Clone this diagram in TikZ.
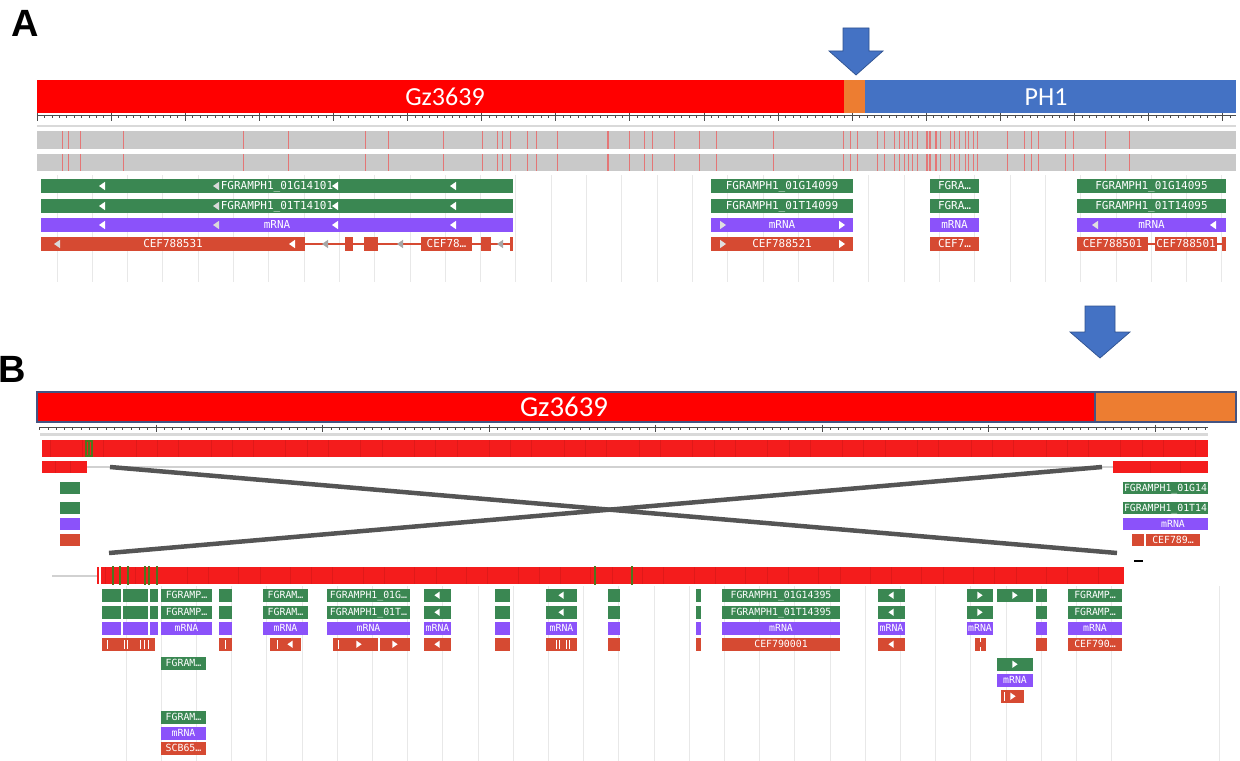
\documentclass[tikz,border=0pt]{standalone}
\usepackage{fontspec}
\setmainfont{Carlito}
\newfontfamily\monofnt{DejaVu Sans Mono}
\newfontfamily\headfnt{Liberation Sans}

\definecolor{barred}{RGB}{255,0,0}
\definecolor{barorange}{RGB}{237,125,49}
\definecolor{barblue}{RGB}{68,114,196}
\definecolor{arrowedge}{RGB}{47,82,143}
\definecolor{baredge}{RGB}{68,84,130}
\definecolor{gnG}{RGB}{58,135,82}
\definecolor{gnP}{RGB}{139,82,250}
\definecolor{gnR}{RGB}{214,74,50}
\definecolor{trk}{RGB}{201,201,201}
\definecolor{snpred}{RGB}{228,118,118}
\definecolor{trkred}{RGB}{244,28,28}
\definecolor{crossgray}{RGB}{85,85,85}
\definecolor{varg}{RGB}{78,118,30}

\newcommand{\blk}[4]{\fill[#1] (#2,#4) rectangle (#3,#4+\fh);}
\newcommand{\lblk}[6]{\blk{#1}{#2}{#3}{#4}%
  \node[lbl] (#5) at ({(#2+#3)/2},#4+\fh/2) {#6};}
\newcommand{\lchev}[3]{\fill[#3] (#1-\cw,#2) -- (#1+\cw,#2-\ch) -- (#1+\cw,#2+\ch) -- cycle;}
\newcommand{\rchev}[3]{\fill[#3] (#1+\cw,#2) -- (#1-\cw,#2-\ch) -- (#1-\cw,#2+\ch) -- cycle;}

\begin{document}
\begin{tikzpicture}[x=0.025cm,y=-0.025cm,
    panel/.style={font=\headfnt\bfseries\fontsize{27}{27}\selectfont,inner sep=0pt},
    barlbl/.style={text=white,inner sep=0pt,font=\fontsize{18.5}{19}\selectfont},
    lbl/.style={text=white,inner sep=0pt,text height=5.6pt,text depth=0pt,
      font=\monofnt\fontsize{7.8}{8}\selectfont},
    gG/.style={fill=gnG},gP/.style={fill=gnP},gR/.style={fill=gnR},
    intron/.style={draw=gnR,line width=1.2pt},
    ruler/.style={draw=black!70,line width=0.45pt},
    snp/.style={draw=snpred,line width=0.55pt},
    gridln/.style={draw=black!9,line width=0.6pt},
    bluearrow/.style={fill=barblue,draw=arrowedge,line width=0.5pt},
    cross/.style={draw=crossgray,line width=3.2pt},
    seam/.style={draw=trkred!80!black,line width=0.3pt,opacity=0.4},
    varln/.style={draw=varg,line width=1pt},
    cut/.style={draw=white,line width=0.6pt}]

  \useasboundingbox (0,0) rectangle (1240,761);

  % panel A
  \node[panel] (labA) at (25,23) {A};
  \fill[barred] (37,80) rectangle (844,113);
  \fill[barorange] (844,80) rectangle (865,113);
  \fill[barblue] (865,80) rectangle (1236,113);
  \node[barlbl] (chrA) at (445,97) {Gz3639};
  \node[barlbl] (refA) at (1046,97) {PH1};
  \draw[bluearrow] (843,28) -- (869,28) -- (869,51) -- (883,51) -- (856,75)
    -- (829,51) -- (843,51) -- cycle;

  \draw[ruler] (37,115) -- (1236,115);
  \foreach \i in {0,...,161} \draw[ruler] (37+\i*7.41,115) -- ++(0,3);
  \foreach \i in {0,...,16} \draw[ruler] (37+\i*74.1,113) -- ++(0,8);
  \fill[black!15] (37,125) rectangle (1236,127.5);

  \fill[trk] (37,131) rectangle (1236,149);
  \fill[trk] (37,154) rectangle (1236,171);
  \foreach \x in {62,68,80,123,243,288,365,388,443,482,497,502,510,527,536,557,
      629,644,652,674,699,716,773,843,850,857,877,884,894,899,904,908,912,917,
      940,950,954,959,965,968,973,977,1007,1024,1031,1038,1065,1073,1105,1129}
    \draw[snp] (\x,131) -- (\x,149) (\x,154) -- (\x,171);
  \foreach \x in {608,927,930,936}
    \draw[snp,line width=1.3pt] (\x,131) -- (\x,149) (\x,154) -- (\x,171);

  \foreach \k in {0,...,33} \draw[gridln] (57+\k*35.3,175) -- (57+\k*35.3,282);

  \def\fh{14}\def\cw{3}\def\ch{4.2}
  \lblk{gG}{41}{513}{179}{a1a}{FGRAMPH1\_01G14101}
  \lblk{gG}{41}{513}{199}{a1b}{FGRAMPH1\_01T14101}
  \lblk{gP}{41}{513}{218}{a1c}{mRNA}
  \foreach \y in {186,206,225} {\lchev{102}{\y}{white}\lchev{335}{\y}{white}
    \lchev{453}{\y}{white}\lchev{216}{\y}{white!70!gray}}
  \draw[intron] (305,244) -- (513,244);
  \lblk{gR}{41}{305}{237}{a1d}{CEF788531}
  \blk{gR}{345}{353}{237}\blk{gR}{364}{378}{237}
  \lblk{gR}{421}{472}{237}{a1e}{CEF78…}
  \blk{gR}{481}{491}{237}\blk{gR}{510}{513}{237}
  \lchev{57}{244}{white!70!gray}\lchev{292}{244}{white}
  \foreach \x in {325,400,500} {\lchev{\x}{244}{black!35}}

  \lblk{gG}{711}{853}{179}{a2a}{FGRAMPH1\_01G14099}
  \lblk{gG}{711}{853}{199}{a2b}{FGRAMPH1\_01T14099}
  \lblk{gP}{711}{853}{218}{a2c}{mRNA}
  \lblk{gR}{711}{853}{237}{a2d}{CEF788521}
  \foreach \y in {225,244} {\rchev{723}{\y}{white!75!gray}\rchev{842}{\y}{white}}

  \lblk{gG}{930}{979}{179}{a3a}{FGRA…}
  \lblk{gG}{930}{979}{199}{a3b}{FGRA…}
  \lblk{gP}{930}{979}{218}{a3c}{mRNA}
  \lblk{gR}{930}{979}{237}{a3d}{CEF7…}

  \lblk{gG}{1077}{1226}{179}{a4a}{FGRAMPH1\_01G14095}
  \lblk{gG}{1077}{1226}{199}{a4b}{FGRAMPH1\_01T14095}
  \lblk{gP}{1077}{1226}{218}{a4c}{mRNA}
  \lchev{1095}{225}{white!75!gray}\lchev{1213}{225}{white}
  \draw[intron] (1148,244) -- (1226,244);
  \lblk{gR}{1077}{1148}{237}{a4d}{CEF788501}
  \lblk{gR}{1155}{1217}{237}{a4e}{CEF788501}
  \blk{gR}{1222}{1226}{237}

  % panel B
  \node[panel] (labB) at (12,369) {B};
  \draw[bluearrow] (1085,306) -- (1115,306) -- (1115,332) -- (1130,332) -- (1100,358)
    -- (1070,332) -- (1085,332) -- cycle;
  \filldraw[fill=barred,draw=baredge,line width=0.8pt] (37,392) rectangle (1095,422);
  \filldraw[fill=barorange,draw=baredge,line width=0.8pt] (1095,392) rectangle (1236,422);
  \node[barlbl,font=\fontsize{20.5}{21}\selectfont] (chrB) at (564,407) {Gz3639};

  \draw[ruler] (40,427) -- (1208,427);
  \foreach \i in {0,...,140} \draw[ruler] (39.5+\i*8.325,427) -- ++(0,2.5);
  \foreach \i in {0,...,6} \draw[ruler] (156+\i*166.5,424.5) -- ++(0,7);
  \fill[black!15] (40,433) rectangle (1208,435.5);

  \fill[trkred] (42,440) rectangle (1208,457);
  \foreach \k in {0,...,45} \draw[seam] ({50+\k*25.3+mod(\k*7,11)},440) -- ++(0,17);
  \draw[varln,line width=0.8pt] (86,441) rectangle (92,456);
  \draw[varln] (89,441) -- (89,456);
  \draw[black!18,line width=1.2pt] (87,467) -- (1113,467);
  \fill[trkred] (42,461) rectangle (87,473);
  \fill[trkred] (1113,461) rectangle (1208,473);
  \foreach \x in {55,70,1150,1180} \draw[seam] (\x,461) -- ++(0,12);

  \coordinate (lt) at (110,467);
  \coordinate (lb) at (109,553);
  \coordinate (rt) at (1102,467);
  \coordinate (rb) at (1117,553);
  \draw[cross] (lt) -- (rb);
  \draw[cross] (lb) -- (rt);

  \def\fh{12}\def\cw{2.6}\def\ch{3.6}
  \tikzset{lbl/.append style={text height=5.1pt,font=\monofnt\fontsize{7}{7}\selectfont}}
  \blk{gG}{60}{80}{482}\blk{gG}{60}{80}{502}
  \blk{gP}{60}{80}{518}\blk{gR}{60}{80}{534}
  \lblk{gG}{1123}{1208}{482}{b0a}{FGRAMPH1\_01G14}
  \lblk{gG}{1123}{1208}{502}{b0b}{FGRAMPH1\_01T14}
  \blk{gP}{1123}{1208}{518}\node[lbl] (b0c) at (1173,524) {mRNA};
  \blk{gR}{1132}{1144}{534}
  \lblk{gR}{1146}{1200}{534}{b0d}{CEF789…}
  \draw[black,line width=1.6pt] (1134,561) -- (1143,561);

  \draw[black!18,line width=1pt] (52,576) -- (97,576);
  \fill[trkred] (97,567) rectangle (1124,584);
  \draw[white,line width=0.8pt] (100,567) -- (100,584);
  \foreach \k in {0,...,39} \draw[seam] ({105+\k*25.3+mod(\k*5,9)},567) -- ++(0,17);
  \foreach \x in {113,120,128,145,149,157,595,632} \draw[varln] (\x,566) -- (\x,585);

  \foreach \k in {0,...,28} \draw[gridln] (126+\k*35.2,586) -- (126+\k*35.2,761);
  \draw[gridln] (1219,586) -- (1219,761);

  \def\fh{12.5}
  \foreach \a/\b in {102/121,123/148,150/158}
    {\blk{gG}{\a}{\b}{589}\blk{gG}{\a}{\b}{606}\blk{gP}{\a}{\b}{622}}
  \lblk{gG}{161}{212}{589}{b1a}{FGRAMP…}
  \lblk{gG}{161}{212}{606}{b1b}{FGRAMP…}
  \lblk{gP}{161}{212}{622}{b1c}{mRNA}
  \blk{gR}{102}{155}{638}
  \foreach \x in {107,124,127,140,144,148} \draw[cut] (\x,640) -- (\x,649);
  \lblk{gG}{161}{206}{657}{b1d}{FGRAM…}
  \lblk{gG}{161}{206}{711}{b1e}{FGRAM…}
  \lblk{gP}{161}{206}{727}{b1f}{mRNA}
  \lblk{gR}{161}{206}{742}{b1g}{SCB65…}

  \blk{gG}{219}{232}{589}\blk{gG}{219}{232}{606}
  \blk{gP}{219}{232}{622}\blk{gR}{219}{232}{638}
  \draw[cut] (225,640) -- (225,649);

  \lblk{gG}{263}{308}{589}{b3a}{FGRAM…}
  \lblk{gG}{263}{308}{606}{b3b}{FGRAM…}
  \lblk{gP}{263}{308}{622}{b3c}{mRNA}
  \blk{gR}{270}{301}{638}
  \draw[cut] (277,640) -- (277,649);
  \lchev{290}{644.25}{white}

  \lblk{gG}{327}{410}{589}{b4a}{FGRAMPH1\_01G…}
  \lblk{gG}{327}{410}{606}{b4b}{FGRAMPH1\_01T…}
  \lblk{gP}{327}{410}{622}{b4c}{mRNA}
  \blk{gR}{333}{378}{638}\blk{gR}{379.5}{410}{638}
  \draw[cut] (338,640) -- (338,649);
  \rchev{359}{644.25}{white}\rchev{395}{644.25}{white}

  \blk{gG}{424}{451}{589}\blk{gG}{424}{451}{606}
  \lblk{gP}{424}{451}{622}{b5c}{mRNA}
  \blk{gR}{424}{451}{638}
  \foreach \y in {595.25,612.25,644.25} {\lchev{437}{\y}{white}}

  \blk{gG}{495}{510}{589}\blk{gG}{495}{510}{606}
  \blk{gP}{495}{510}{622}\blk{gR}{495}{510}{638}

  \blk{gG}{546}{577}{589}\blk{gG}{546}{577}{606}
  \lblk{gP}{546}{577}{622}{b7c}{mRNA}
  \blk{gR}{546}{577}{638}
  \foreach \x in {556,559,566,569} \draw[cut] (\x,640) -- (\x,649);
  \foreach \y in {595.25,612.25} {\lchev{561}{\y}{white}}

  \blk{gG}{608}{620}{589}\blk{gG}{608}{620}{606}
  \blk{gP}{608}{620}{622}\blk{gR}{608}{620}{638}

  \blk{gG}{696}{701}{589}\blk{gG}{696}{701}{606}
  \blk{gP}{696}{701}{622}\blk{gR}{696}{701}{638}

  \lblk{gG}{722}{840}{589}{b10a}{FGRAMPH1\_01G14395}
  \lblk{gG}{722}{840}{606}{b10b}{FGRAMPH1\_01T14395}
  \lblk{gP}{722}{840}{622}{b10c}{mRNA}
  \lblk{gR}{722}{840}{638}{b10d}{CEF790001}

  \blk{gG}{878}{905}{589}\blk{gG}{878}{905}{606}
  \lblk{gP}{878}{905}{622}{b11c}{mRNA}
  \blk{gR}{878}{905}{638}
  \foreach \y in {595.25,612.25,644.25} {\lchev{891}{\y}{white}}

  \blk{gG}{967}{993}{589}\blk{gG}{967}{993}{606}
  \lblk{gP}{967}{993}{622}{b12c}{mRNA}
  \blk{gR}{975}{986}{638}
  \draw[cut] (980.5,638) -- (980.5,642) (980.5,647) -- (980.5,650.5);
  \foreach \y in {595.25,612.25} {\rchev{980}{\y}{white}}

  \blk{gG}{997}{1033}{589}\rchev{1015}{595.25}{white}
  \blk{gG}{997}{1033}{658}\rchev{1015}{664.25}{white}
  \lblk{gP}{997}{1033}{674}{b13c}{mRNA}
  \blk{gR}{1001}{1024}{690}
  \draw[cut] (1004,692) -- (1004,701);
  \rchev{1013}{696.25}{white}

  \blk{gG}{1036}{1047}{589}\blk{gG}{1036}{1047}{606}
  \blk{gP}{1036}{1047}{622}\blk{gR}{1036}{1047}{638}

  \lblk{gG}{1068}{1122}{589}{b15a}{FGRAMP…}
  \lblk{gG}{1068}{1122}{606}{b15b}{FGRAMP…}
  \lblk{gP}{1068}{1122}{622}{b15c}{mRNA}
  \lblk{gR}{1068}{1122}{638}{b15d}{CEF790…}

\end{tikzpicture}
\end{document}
